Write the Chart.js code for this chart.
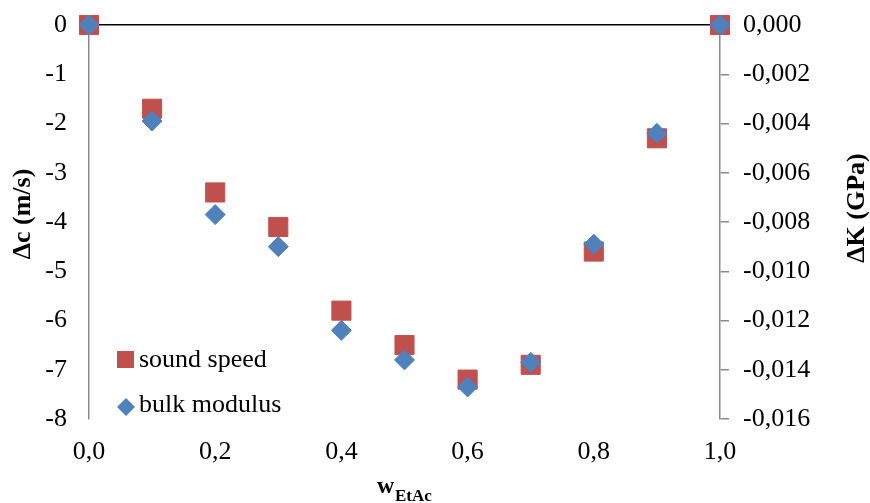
<!DOCTYPE html>
<html>
<head>
<meta charset="utf-8">
<script src="https://cdn.jsdelivr.net/npm/chart.js@4"></script>
<style>
  html, body { margin: 0; padding: 0; background: #fff; }
  #wrap { width: 870px; height: 503px; }
</style>
</head>
<body>
<div id="wrap"><canvas id="scatterChart"></canvas></div>
<script>
const wEtAc = [0.0, 0.1, 0.2, 0.3, 0.4, 0.5, 0.6, 0.7, 0.8, 0.9, 1.0];
const soundSpeed = [0, -1.7, -3.4, -4.1, -5.8, -6.5, -7.2, -6.9, -4.6, -2.3, 0];
const bulkModulus = [0, -0.0039, -0.0077, -0.0090, -0.0124, -0.0136, -0.0147, -0.0137, -0.0089, -0.0044, 0];

const serif = '"Liberation Serif", "Times New Roman", serif';
const red = '#C0504D';
const blue = '#4F81BD';
const axisGrey = '#8a8a8a';

const toPoints = (ys) => wEtAc.map((x, i) => ({ x: x, y: ys[i] }));
const comma = (v, d) => v.toFixed(d).replace('-0.000', '0.000').replace('.', ',');

// titles and the in-plot legend, drawn after the chart
const extras = {
  id: 'extras',
  afterDraw(chart) {
    const ctx = chart.ctx;
    ctx.save();
    ctx.fillStyle = '#000';
    ctx.textBaseline = 'middle';
    ctx.textAlign = 'center';
    ctx.font = 'bold 26px ' + serif;

    ctx.save();
    ctx.translate(23, 214);
    ctx.rotate(-Math.PI / 2);
    ctx.fillText('Δc (m/s)', 0, 0);
    ctx.restore();

    ctx.save();
    ctx.translate(857, 208);
    ctx.rotate(-Math.PI / 2);
    ctx.fillText('ΔK (GPa)', 0, 0);
    ctx.restore();

    ctx.textAlign = 'left';
    ctx.textBaseline = 'alphabetic';
    ctx.font = 'bold 24px ' + serif;
    ctx.fillText('w', 377, 493);
    ctx.font = 'bold 17px ' + serif;
    ctx.fillText('EtAc', 395, 501);

    // legend
    ctx.font = '26px ' + serif;
    ctx.fillStyle = red;
    ctx.fillRect(117, 351, 17, 17);
    ctx.fillStyle = '#000';
    ctx.fillText('sound speed', 139, 367);

    ctx.fillStyle = blue;
    ctx.beginPath();
    ctx.moveTo(117, 407);
    ctx.lineTo(126, 398);
    ctx.lineTo(135, 407);
    ctx.lineTo(126, 416);
    ctx.closePath();
    ctx.fill();
    ctx.fillStyle = '#000';
    ctx.fillText('bulk modulus', 139, 412);
    ctx.restore();
  }
};

// fixed box sizes so the plot area lands where the original has it
const fixY = (w) => (s) => { s.width = w; s.paddingTop = 0; s.paddingBottom = 0; };

new Chart(document.getElementById('scatterChart'), {
  type: 'scatter',
  data: {
    datasets: [
      {
        label: 'sound speed',
        data: toPoints(soundSpeed),
        yAxisID: 'y',
        pointStyle: 'rect',
        pointRadius: 13.5,
        pointHoverRadius: 13.5,
        borderWidth: 1,
        backgroundColor: red,
        borderColor: red,
        order: 1,
        clip: false
      },
      {
        label: 'bulk modulus',
        data: toPoints(bulkModulus),
        yAxisID: 'y2',
        pointStyle: 'rectRot',
        pointRadius: 10,
        pointHoverRadius: 10,
        borderWidth: 1,
        backgroundColor: blue,
        borderColor: blue,
        order: 0,
        clip: false
      }
    ]
  },
  options: {
    responsive: true,
    maintainAspectRatio: false,
    animation: false,
    layout: { autoPadding: false, padding: { top: 25, left: 0, right: 0, bottom: 0 } },
    plugins: {
      legend: { display: false },
      tooltip: { enabled: false }
    },
    scales: {
      x: {
        type: 'linear',
        position: 'bottom',
        min: 0,
        max: 1,
        grid: { display: false },
        border: { display: false },
        ticks: {
          stepSize: 0.2,
          padding: 10,
          color: '#000',
          font: { family: serif, size: 26 },
          callback: (v) => comma(v, 1)
        },
        afterFit: (s) => { s.height = 84; }
      },
      y: {
        position: 'left',
        min: -8,
        max: 0,
        grid: {
          drawTicks: false,
          lineWidth: 1.5,
          color: (c) => (c.tick && c.tick.value === 0 ? '#000' : 'rgba(0,0,0,0)')
        },
        border: { display: true, color: axisGrey, width: 1.5 },
        ticks: {
          stepSize: 1,
          padding: 22,
          color: '#000',
          font: { family: serif, size: 26 },
          callback: (v) => String(v)
        },
        afterFit: fixY(89)
      },
      y2: {
        position: 'right',
        min: -0.016,
        max: 0,
        grid: {
          drawOnChartArea: false,
          drawTicks: true,
          tickLength: 9,
          lineWidth: 1.5,
          color: axisGrey
        },
        border: { display: true, color: axisGrey, width: 1.5 },
        ticks: {
          stepSize: 0.002,
          padding: 14,
          color: '#000',
          font: { family: serif, size: 26 },
          callback: (v) => comma(v, 3)
        },
        afterFit: fixY(150)
      }
    }
  },
  plugins: [extras]
});
</script>
</body>
</html>
